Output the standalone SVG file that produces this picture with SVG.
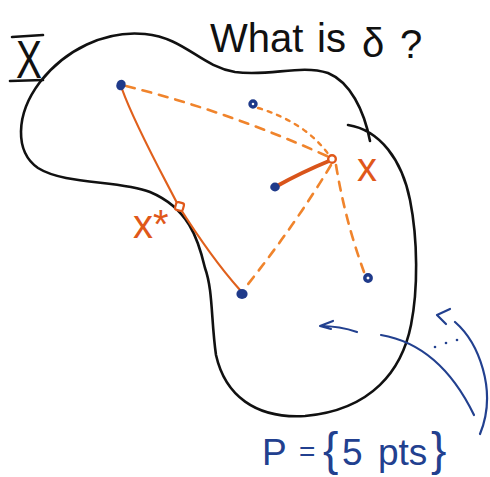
<svg xmlns="http://www.w3.org/2000/svg" width="490" height="477" viewBox="0 0 490 477">
<style>
.outline{fill:none;stroke:#111;stroke-width:2.6;stroke-linecap:round;stroke-linejoin:round}
.blue{fill:none;stroke:#22408f;stroke-width:2.2;stroke-linecap:round;stroke-linejoin:round}
.solid{fill:none;stroke:#e0601c;stroke-width:2.2;stroke-linecap:round}
.thick{fill:none;stroke:#d9541a;stroke-width:4;stroke-linecap:round}
.dash{fill:none;stroke:#f0842c;stroke-width:2.6;stroke-dasharray:9 8;stroke-linecap:round}
.dot{fill:none;stroke:#f0842c;stroke-width:2.4;stroke-dasharray:4 6;stroke-linecap:round}
.pt{fill:#1f3a8a}
.ring{fill:#fff;stroke:#1f3a8a;stroke-width:3.4}
.hw{font-family:"Liberation Sans",Arial,sans-serif}
.or{fill:#e0581a}
</style>
<rect width="490" height="477" fill="#fff"/>
<g id="region">
<path class="outline" d="M 348,125 C 380,130 402,160 410,200 C 418,240 418,290 411,325 C 402,370 372,410 305,416 C 255,419 225,395 216,355 C 211,320 213,290 205,268 C 198,238 188,208 150,192 C 120,180 65,185 38,168 C 15,152 15,115 40,82 C 65,50 105,30 145,34 C 185,38 200,66 235,72 C 270,77 300,64 328,73 C 350,82 364,110 370,141"/>
</g>
<g id="label-X">
<text class="hw" x="0" y="78" font-size="54" fill="#111" transform="translate(16,0) scale(0.72,1)">X</text>
<line x1="12" y1="37" x2="43" y2="35" stroke="#111" stroke-width="2.6" stroke-linecap="round"/>
<line x1="10" y1="81" x2="43" y2="80" stroke="#111" stroke-width="2.6" stroke-linecap="round"/>
</g>
<g id="title">
<text class="hw" font-size="40" fill="#111"><tspan x="210" y="52">What</tspan><tspan x="317" y="52">is</tspan><tspan x="362" y="57">δ</tspan><tspan x="400" y="58">?</tspan></text>
</g>
<g id="connectors">
<path class="solid" d="M 122,89 C 135,125 160,170 178,205 C 195,232 215,262 240,290"/>
<path class="thick" d="M 277,186 C 295,176 312,168 329,161"/>
<path class="dash" d="M 126,86 Q 230,112 329,157"/>
<path class="dot" d="M 258,108 Q 305,122 329,155"/>
<path class="dash" d="M 331,165 Q 295,225 245,288"/>
<path class="dash" d="M 336,165 Q 345,220 364,272"/>
</g>
<g id="point-x">
<circle cx="332" cy="159" r="3.8" fill="#fff" stroke="#e0581a" stroke-width="2.4"/>
<text class="hw or" x="357" y="181" font-size="40">x</text>
</g>
<g id="point-xstar">
<rect x="175.5" y="202.5" width="8" height="8" rx="2" fill="#fff" stroke="#e0581a" stroke-width="2.2" transform="rotate(15 179.5 206.5)"/>
<text class="hw or" x="133" y="238" font-size="40">x*</text>
</g>
<g id="p1"><ellipse class="pt" cx="121" cy="85" rx="4.6" ry="5.4" transform="rotate(20 121 85)"/></g>
<g id="p2"><circle class="ring" cx="253" cy="104" r="3"/></g>
<g id="p3"><ellipse class="pt" cx="275" cy="187" rx="4.8" ry="4.4"/></g>
<g id="p4"><circle class="ring" cx="368" cy="278" r="3.2"/></g>
<g id="p5"><ellipse class="pt" cx="242" cy="294" rx="5.6" ry="5"/></g>
<g id="arrows">
<path class="blue" d="M 474,415 Q 440,345 381,335"/>
<path class="blue" d="M 357,332 Q 340,326 320,326 L 333,321 M 320,326 L 331,329"/>
<path class="blue" d="M 480,434 C 498,390 478,342 455,322"/>
<path class="blue" d="M 450,309 L 437,315 L 446,324"/>
<circle cx="435" cy="347" r="1.3" fill="#22408f"/>
<circle cx="446" cy="343" r="1.3" fill="#22408f"/>
<circle cx="457" cy="340" r="1.3" fill="#22408f"/>
</g>
<g id="label-P">
<text class="hw" fill="#22408f" font-size="37"><tspan x="262" y="465">P</tspan><tspan x="299" y="461" font-size="28">=</tspan><tspan x="323" y="465" font-size="46">{</tspan><tspan x="342" y="465">5</tspan><tspan x="378" y="465">pts</tspan><tspan x="431" y="465" font-size="46">}</tspan></text>
</g>
</svg>
